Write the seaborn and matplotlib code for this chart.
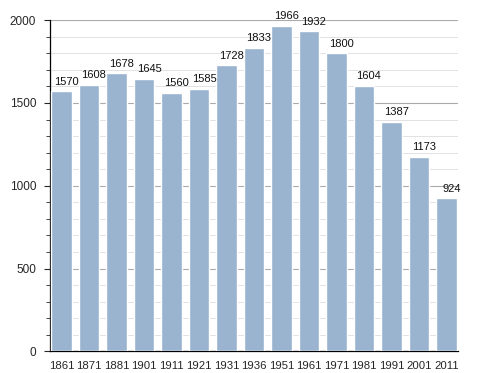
import pandas as pd
import seaborn as sns
import matplotlib.pyplot as plt
from matplotlib.ticker import MultipleLocator

years = ['1861', '1871', '1881', '1901', '1911', '1921', '1931', '1936',
         '1951', '1961', '1971', '1981', '1991', '2001', '2011']
population = [1570, 1608, 1678, 1645, 1560, 1585, 1728, 1833,
              1966, 1932, 1800, 1604, 1387, 1173, 924]

df = pd.DataFrame({'year': years, 'pop': population})

sns.set_theme(style="white")
plt.rcParams['font.family'] = ['Liberation Sans', 'DejaVu Sans']

fig = plt.figure(figsize=(4.88, 3.73), dpi=100)
ax = fig.add_axes([0.1025, 0.058, 0.836, 0.888])

sns.barplot(data=df, x='year', y='pop', color='#9ab3cf', saturation=1,
            width=0.75, ax=ax)
for p in ax.patches:
    p.set_zorder(3)

# value labels sit a bit to the right of each bar, like the original
for i, v in enumerate(population):
    ax.text(i + 0.18, v + 28, str(v), ha='center', va='bottom', fontsize=8,
            color='#111111', zorder=4)

ax.set_ylim(0, 2000)
ax.set_xlim(-0.42, 14.42)
ax.yaxis.set_major_locator(MultipleLocator(500))
ax.yaxis.set_minor_locator(MultipleLocator(100))
ax.grid(axis='y', which='major', color='#aaaaaa', linewidth=0.8)
ax.grid(axis='y', which='minor', color='#e2e2e2', linewidth=0.7)
ax.set_axisbelow(True)

for s in ['top', 'right']:
    ax.spines[s].set_visible(False)
ax.spines['left'].set_color('black')
ax.spines['bottom'].set_color('black')
ax.spines['left'].set_linewidth(0.9)
ax.spines['bottom'].set_linewidth(0.9)

ax.tick_params(axis='y', which='major', left=True, length=4, width=0.8, labelsize=8.5, pad=6)
ax.tick_params(axis='y', which='minor', left=True, length=3, width=0.6)
ax.tick_params(axis='x', bottom=False, labelsize=8.2, pad=1)
ax.set_xlabel('')
ax.set_ylabel('')

plt.savefig('out.png', dpi=100)
